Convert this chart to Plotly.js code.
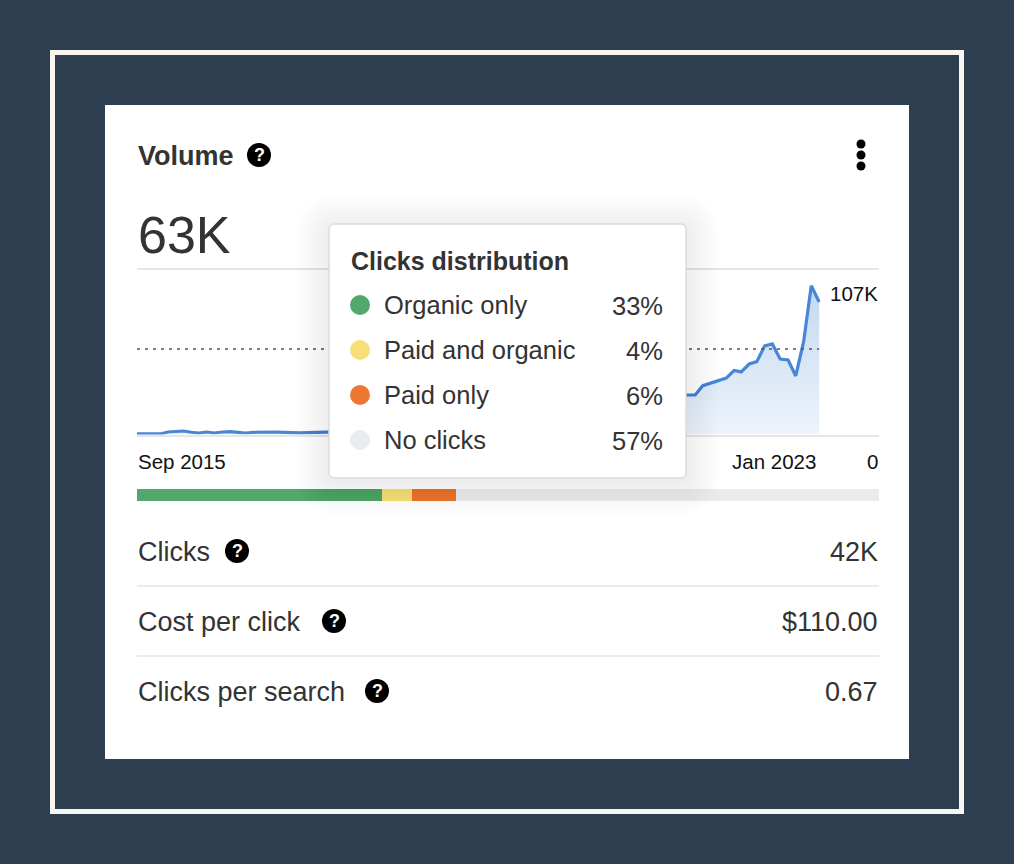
<!DOCTYPE html>
<html>
<head>
<meta charset="utf-8">
<script src="https://cdn.plot.ly/plotly-3.0.1.min.js"></script>
<style>html,body{margin:0;padding:0;background:#2c3e50}#chart{width:1014px;height:864px}</style>
</head>
<body>
<div id="chart"></div>
<script>
// ---------- data ----------
var volumeK = [0.4,0.4,0.4,0.4,1.8,1.9,2.5,1.6,1.1,1.8,1.1,1.8,2.0,1.6,1.1,1.6,1.8,1.8,1.8,1.6,1.2,1.1,1.4,1.6,1.6,
  1.7,1.9,2.0,2.2,2.1,2.4,2.6,2.9,3.1,3.0,3.4,3.8,4.1,4.4,4.3,4.9,5.4,5.9,6.3,6.1,6.9,7.6,8.2,8.9,9.4,
  9.8,10.6,11.4,12.3,13.1,13.8,14.9,15.7,16.6,17.4,18.2,19.3,20.4,21.3,22.1,23.0,24.2,25.3,26.2,27.1,
  28.4,28.4,28.4,35.1,37,38.5,40.6,46,45,50.7,52.4,63.7,65.1,54.3,53.6,42.1,66.8,107,95.3];
var referenceK = 61.5;
var distributionNames = ['Organic only','Paid and organic','Paid only','No clicks'];
var distributionValues = [33,4,6,57];
var distributionColors = ['#52a76b','#f7df77','#ec7733','#e9ebee'];
var distributionBar = ['#52a76b','#f7df77','#ec7733','#ebebeb'];
var metricNames = ['Clicks','Cost per click','Clicks per search'];
var metricValues = ['42K','$110.00','0.67'];
var startLabel = 'Sep 2015', endLabel = 'Jan 2023';
var headline = '63K', cardTitle = 'Volume', maxLabel = '107K', zeroLabel = '0';

// ---------- helpers ----------
var W = 1014, H = 864, FONT = '"Liberation Sans", Arial, sans-serif', INK = '#333333';
var px = function (x) { return x / W; }, py = function (y) { return 1 - y / H; };
var months = volumeK.map(function (_, i) {
  var d = new Date(Date.UTC(2015, 8 + i, 1));
  return d.toISOString().slice(0, 10);
});
var shapes = [], notes = [];
function rect(x0, y0, x1, y1, fill, line, lw) {
  shapes.push({type:'rect', xref:'paper', yref:'paper', x0:px(x0), x1:px(x1), y0:py(y0), y1:py(y1),
    fillcolor:fill, line:{color:line||'rgba(0,0,0,0)', width:lw||0}, layer:'above'});
}
function below(s){ s.layer='below'; return s; }
function rrect(x0, y0, x1, y1, r, fill, line, lw) {
  var P = function (x, y) { return px(x) + ',' + py(y); };
  var k = r * 0.45;
  var d = 'M' + P(x0 + r, y0) + ' L' + P(x1 - r, y0) + ' C' + P(x1 - k, y0) + ' ' + P(x1, y0 + k) + ' ' + P(x1, y0 + r) +
    ' L' + P(x1, y1 - r) + ' C' + P(x1, y1 - k) + ' ' + P(x1 - k, y1) + ' ' + P(x1 - r, y1) +
    ' L' + P(x0 + r, y1) + ' C' + P(x0 + k, y1) + ' ' + P(x0, y1 - k) + ' ' + P(x0, y1 - r) +
    ' L' + P(x0, y0 + r) + ' C' + P(x0, y0 + k) + ' ' + P(x0 + k, y0) + ' ' + P(x0 + r, y0) + ' Z';
  shapes.push({type:'path', xref:'paper', yref:'paper', path:d, fillcolor:fill,
    line:{color:line||'rgba(0,0,0,0)', width:lw||0}, layer:'above'});
}
function dot(cx, cy, r, fill) {
  shapes.push({type:'circle', xref:'paper', yref:'paper', x0:px(cx-r), x1:px(cx+r), y0:py(cy+r), y1:py(cy-r),
    fillcolor:fill, line:{width:0}, layer:'above'});
}
function text(t, x, y, size, anchor, opts) {
  opts = opts || {};
  notes.push({text:t, xref:opts.xref||'paper', yref:'paper', x:opts.xref ? x : px(x), y:py(y), xanchor:anchor, yanchor:'middle',
    showarrow:false, borderpad:0, align:anchor,
    font:{family:FONT, size:size, color:opts.color||INK, weight:opts.weight||400}});
}
function help(cx, cy) {
  dot(cx, cy, 12, '#000000');
  text('<b>?</b>', cx, cy, 18, 'center', {color:'#ffffff'});
}

// ---------- page furniture (under the plots) ----------
function bgRect(x0,y0,x1,y1,fill){
  shapes.push({type:'rect', xref:'paper', yref:'paper', x0:px(x0), x1:px(x1), y0:py(y0), y1:py(y1),
    fillcolor:fill, line:{width:0}, layer:'below'});
}
bgRect(50,50,964,814,'#f8f6f0');
bgRect(55,55,959,809,'#2c3e50');
bgRect(105,105,909,759,'#ffffff');

// ---------- header ----------
text('<b>'+cardTitle+'</b>', 137, 155.5, 27, 'left');
help(259, 155);
dot(861, 144, 4.5, '#000000'); dot(861, 155, 4.5, '#000000'); dot(861, 166, 4.5, '#000000');
text(headline, 137, 235, 52, 'left');

// ---------- axis labels ----------
text(startLabel, 137, 461.5, 20.5, 'left', {color:'#111111'});
text(endLabel, 817, 461.5, 20.5, 'right', {color:'#111111'});
text(zeroLabel, 879, 461.5, 20.5, 'right', {color:'#111111'});
text(maxLabel, 879, 293, 20.5, 'right', {color:'#111111'});

// ---------- metric rows ----------
var rowY = [551.5, 621.5, 691.5], helpX = [237, 334, 377];
metricNames.forEach(function (n, i) {
  text(n, 137, rowY[i], 27, 'left');
  text(metricValues[i], 879, rowY[i], 27, 'right');
  help(helpX[i], rowY[i]-0.5);
});
[586, 656].forEach(function (y) {
  shapes.push({type:'line', xref:'paper', yref:'paper', x0:px(137), x1:px(879), y0:py(y), y1:py(y),
    line:{color:'#ebebeb', width:2}, layer:'below'});
});

// ---------- tooltip ----------
for (var s = 34; s >= 2; s -= 2) {
  rrect(329 - s, 224 - s + 4, 686 + s, 478 + s + 4, 4 + s, 'rgba(0,0,0,0.0055)');
}
rrect(329, 224, 686, 478, 5, '#ffffff', '#dcdcdc', 1.5);
text('<b>Clicks distribution</b>', 350, 261, 25, 'left');
var legY = [305, 350, 395, 440];
distributionNames.forEach(function (n, i) {
  dot(360, legY[i], 10, distributionColors[i]);
  text(n, 382.5, legY[i], 25.5, 'left');
  text(distributionValues[i] + '%', 664, legY[i] + 1, 25.5, 'right');
});

// ---------- traces ----------
var traces = [
  {type:'scatter', mode:'lines', x:months, y:volumeK, xaxis:'x', yaxis:'y', hoverinfo:'skip',
   line:{color:'#4a86d6', width:3.2, shape:'linear'}, fill:'tozeroy',
   fillgradient:{type:'vertical', colorscale:[[0,'#eef4fb'],[1,'#c3d8f1']]}},
  {type:'scatter', mode:'lines', x:[months[0], months[months.length-1]], y:[referenceK, referenceK], xaxis:'x', yaxis:'y', hoverinfo:'skip',
   line:{color:'#555555', width:1.4, dash:'3px,5px'}}
];
distributionValues.forEach(function (v, i) {
  traces.push({type:'bar', orientation:'h', x:[v], y:['share'], xaxis:'x2', yaxis:'y2', hoverinfo:'skip',
    name:distributionNames[i], marker:{color:distributionBar[i], line:{width:0}}});
});

var layout = {
  width:W, height:H, margin:{l:0,r:0,t:0,b:0}, paper_bgcolor:'#2c3e50', plot_bgcolor:'rgba(0,0,0,0)',
  showlegend:false, barmode:'stack', bargap:0, hovermode:false,
  xaxis:{type:'date', domain:[px(137),px(879)], range:['2015-09-01','2023-08-24'], showgrid:false, zeroline:false,
    showticklabels:false, ticks:'', showline:true, mirror:true, linecolor:'#e6e6e6', linewidth:2, anchor:'y'},
  yaxis:{domain:[py(434.5),py(270)], range:[0,118.3], showgrid:false, zeroline:false, showticklabels:false, ticks:'', anchor:'x'},
  xaxis2:{domain:[px(137),px(879)], range:[0,100], showgrid:false, zeroline:false, showticklabels:false, ticks:'', anchor:'y2'},
  yaxis2:{domain:[py(501),py(489)], type:'category', showgrid:false, zeroline:false, showticklabels:false, ticks:'', anchor:'x2'},
  shapes:shapes, annotations:notes
};
Plotly.newPlot('chart', traces, layout, {displayModeBar:false, staticPlot:true});
</script>
</body>
</html>
